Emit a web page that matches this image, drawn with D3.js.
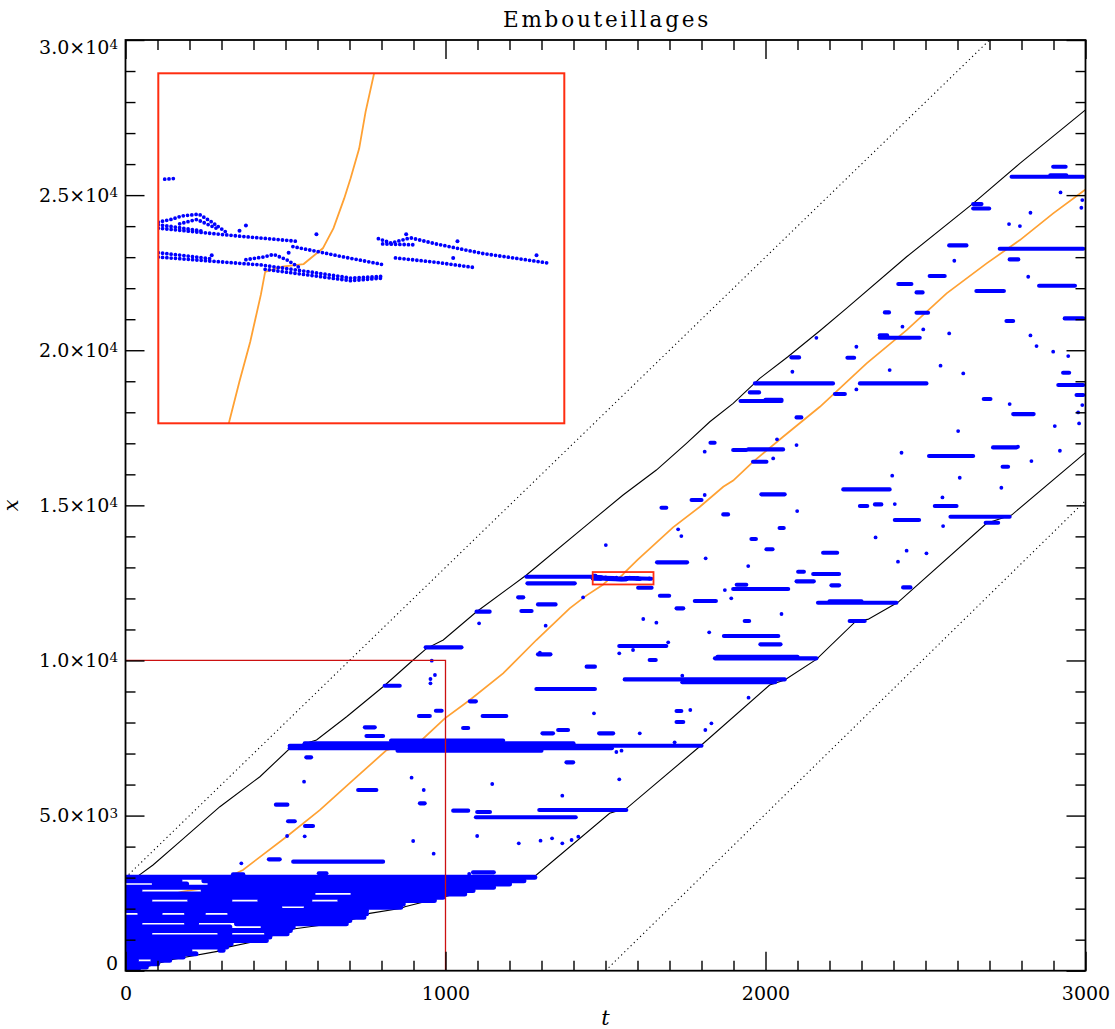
<!DOCTYPE html>
<html>
<head>
<meta charset="utf-8">
<script src="https://cdn.jsdelivr.net/npm/d3@7"></script>
<style>
  body { margin: 0; background: #fff; }
  svg { display: block; }
</style>
</head>
<body>
<svg id="chart" width="1115" height="1029"></svg>
<script>
// ---------- axis ticks and labels ----------
const tMajor = [0, 1000, 2000, 3000];
const tLabels = ["0", "1000", "2000", "3000"];
const xMajor = [0, 5000, 10000, 15000, 20000, 25000, 30000];
const xLabelBase = ["0", "5.0\u00d710", "1.0\u00d710", "1.5\u00d710", "2.0\u00d710", "2.5\u00d710", "3.0\u00d710"];
const xLabelExp = ["", "3", "4", "4", "4", "4", "4"];

// ---------- road limits (t, x) ----------
const entryBound = [[0, 3000], [2700, 30000]];      // dotted, free flow from the entrance
const exitBound = [[1500, 0], [3000, 15150]];        // dotted, free flow from the origin

// first vehicle (upper envelope)
const headEdge = [[0, 2900], [29, 2977], [86, 3406], [170, 4158], [295, 5286], [420, 6253],
  [514, 7168], [597, 7435], [691, 8187], [805, 9153], [899, 10014], [941, 10391], [993, 10659],
  [1097, 11571], [1253, 12754], [1441, 14365], [1555, 15332], [1659, 16138], [1753, 16998],
  [1826, 17694], [1899, 18287], [1982, 19093], [2070, 19790], [2170, 20627], [2253, 21349],
  [2441, 23012], [2649, 24733], [2795, 26022], [3000, 27750]];

// last vehicle (lower envelope)
const tailEdge = [[0, 0], [45, 76], [86, 184], [138, 345], [300, 646], [316, 753], [441, 1022],
  [456, 1119], [508, 1258], [524, 1344], [690, 1580], [701, 1634], [743, 1742], [763, 1849],
  [862, 2010], [873, 2064], [1071, 2580], [1097, 2655], [1149, 2741], [1165, 2816], [1269, 3031],
  [1284, 3085], [1513, 5073], [1566, 5234], [1800, 7274], [2013, 9207], [2060, 9369],
  [2159, 10036], [2284, 11281], [2320, 11325], [2414, 11874], [2691, 14420], [2769, 14687],
  [3000, 16700]];

// tracked vehicle
const probe = [[120, 2380], [175, 2546], [248, 2660], [367, 3246], [503, 4319], [607, 5176],
  [711, 6143], [816, 7110], [860, 7230], [920, 7381], [998, 8135], [1076, 8725], [1180, 9585],
  [1284, 10659], [1388, 11680], [1440, 12090], [1493, 12450], [1498, 12498], [1503, 12543],
  [1508, 12597], [1510, 12623], [1518, 12629], [1528, 12632], [1532, 12640], [1537, 12650],
  [1542, 12673], [1547, 12707], [1550, 12730], [1554, 12764], [1557, 12806], [1561, 12850],
  [1600, 13240], [1711, 14290], [1795, 14955], [1868, 15600], [1899, 15800], [1961, 16400],
  [2055, 17211], [2170, 18178], [2316, 19577], [2441, 20650], [2566, 21833], [2691, 22800],
  [2795, 23551], [2899, 24411], [3000, 25180]];

// initial queue: stopped vehicles [t start, t end, x]
const queueRows = [
  [3, 1279, 3010],
  [3, 170, 2903], [245, 1245, 2903],
  [90, 191, 2796], [264, 1200, 2796],
  [3, 1150, 2689],
  [3, 45, 2582], [243, 1086, 2582],
  [3, 586, 2475], [711, 1060, 2475],
  [3, 992, 2368],
  [3, 76, 2261], [201, 326, 2261], [420, 576, 2261], [670, 965, 2261],
  [3, 868, 2154],
  [3, 482, 2047], [565, 860, 2047],
  [3, 753, 1940],
  [45, 108, 1833], [191, 243, 1833], [326, 753, 1833],
  [3, 745, 1726],
  [3, 701, 1619],
  [3, 45, 1512], [191, 222, 1512], [347, 690, 1512],
  [3, 326, 1405], [430, 524, 1405],
  [3, 515, 1298],
  [3, 76, 1191], [295, 326, 1191], [441, 505, 1191],
  [3, 451, 1084],
  [3, 440, 977],
  [3, 330, 870],
  [3, 316, 763],
  [3, 201, 656], [295, 305, 656],
  [3, 220, 549],
  [3, 180, 442],
  [3, 34, 335], [86, 138, 335],
  [3, 100, 228],
  [3, 65, 121],
  [3, 40, 30]
];

// later stop-and-go jams [t start, t end, x]
const jams = [
  [336, 368, 3107], [604, 628, 3139], [524, 805, 3515], [448, 482, 3590], [1086, 1151, 3171],
  [508, 529, 4815], [561, 586, 4664], [470, 506, 5352], [920, 935, 5395], [727, 784, 5825],
  [1024, 1071, 5159], [1099, 1139, 5116], [1095, 1407, 4944], [1293, 1565, 5180],
  [1378, 1399, 6716], [565, 580, 6877],
  [513, 1800, 7250], [513, 1520, 7170], [560, 1400, 7330], [830, 1180, 7420], [850, 1300, 7090],
  [1303, 1336, 7651], [1352, 1383, 7758], [1480, 1524, 7651], [748, 779, 7844], [753, 805, 7565],
  [1055, 1071, 7823], [1722, 1743, 8016], [1722, 1737, 8371],
  [917, 951, 8210], [1116, 1190, 8210], [970, 988, 8381], [1076, 1095, 8682],
  [810, 857, 9187], [1284, 1467, 9080],
  [1560, 2060, 9390], [1740, 2030, 9300],
  [1441, 1467, 9800], [1638, 1657, 10014],
  [1842, 2159, 10068], [1850, 2100, 10120],
  [938, 1050, 10423], [1289, 1328, 10197], [1543, 1690, 10466], [1984, 2047, 10520], [1870, 2040, 10788],
  [1935, 1949, 11272], [2263, 2310, 11271], [1097, 1138, 11573], [1237, 1269, 11594], [1722, 1743, 11680],
  [1289, 1344, 11808], [1779, 1845, 11916], [2164, 2409, 11862], [2200, 2300, 11905],
  [1227, 1243, 12034], [1670, 1699, 12088], [1899, 2071, 12303], [1910, 1940, 12440], [2430, 2453, 12356],
  [1602, 1644, 12346], [2206, 2230, 12421], [1256, 1404, 12485], [2097, 2151, 12550],
  [1253, 1460, 12700],
  [2149, 2230, 12786], [2102, 2120, 12861], [1661, 1755, 13162], [2180, 2224, 13474], [2003, 2022, 13585],
  [1956, 1970, 13914], [2044, 2057, 14269], [2404, 2480, 14526], [2578, 2763, 14633], [2688, 2727, 14440],
  [1868, 1883, 14709], [1675, 1690, 14924], [2295, 2318, 14977], [2342, 2362, 15031], [2529, 2597, 14977],
  [1769, 1800, 15171], [1987, 2060, 15354], [2243, 2388, 15514],
  [2741, 2758, 16245], [1961, 2003, 16406], [2511, 2649, 16589], [1899, 1940, 16782], [1946, 2055, 16804],
  [2711, 2784, 16868], [1828, 1841, 17019],
  [2097, 2112, 17835], [2774, 2838, 17942], [1922, 2050, 18362], [2000, 2050, 18400], [2682, 2703, 18426],
  [2972, 2993, 18555], [2217, 2248, 18588], [1951, 1980, 18641], [2915, 2993, 18878],
  [1967, 2211, 18931], [2295, 2503, 18931],
  [2930, 2949, 19275], [2081, 2105, 19769], [2256, 2277, 19758],
  [2357, 2482, 20403], [2357, 2380, 20480], [2753, 2774, 20940], [2935, 2993, 21026],
  [2373, 2386, 21220], [2472, 2508, 21209], [2472, 2491, 21864], [2659, 2745, 21907], [2855, 2967, 22079],
  [2415, 2456, 22133], [2513, 2560, 22391], [2763, 2790, 22928], [2732, 2993, 23272], [2574, 2628, 23379],
  [2649, 2699, 24571], [2649, 2675, 24711], [2769, 2993, 25592], [2890, 2940, 25640], [2899, 2938, 25914]
];

// single slowed vehicles [t, x]
const stops = [
  [362, 3461], [1074, 3117], [505, 4342], [560, 4331], [1099, 4342], [1229, 4105], [1297, 4192],
  [1333, 4267], [1365, 4105], [1394, 4213], [1415, 4321], [899, 4181], [963, 3773],
  [558, 6093], [894, 6222], [932, 5825], [1146, 6018], [1365, 5642], [1543, 6169], [1534, 7050],
  [1550, 7093], [1716, 7361], [1812, 7758], [1831, 7973], [1765, 8403], [1607, 7651], [1464, 8296],
  [1947, 8800], [1740, 9510],
  [957, 9993], [967, 9531], [953, 9402], [953, 9262], [1295, 10251], [1543, 10229], [1586, 10337],
  [1696, 10584], [1824, 10906], [1105, 11196], [1313, 11121], [1618, 11336], [1659, 11218],
  [2050, 11497], [1430, 12034], [1893, 12002], [1873, 12270], [1501, 13721], [1813, 13291], [1946, 13044],
  [2099, 14816], [1727, 14226], [1737, 14010], [2441, 13538], [2503, 13452], [2414, 13183],
  [2344, 13967], [2555, 14333], [2404, 15042], [2553, 15256], [2737, 15568], [1810, 15333],
  [2396, 15955], [2607, 15890], [2831, 16427], [2425, 16696], [2920, 16760], [2789, 16889],
  [2097, 16943], [2036, 17127], [2024, 16514], [1810, 16729], [2602, 17394], [2904, 17555],
  [2980, 17641], [2977, 17996], [2990, 18232], [2763, 18265], [2284, 18738],
  [2084, 19307], [2388, 19361], [2547, 19501], [2618, 19254], [2946, 19812], [2899, 19952],
  [2284, 20113], [2847, 20135], [2159, 20400], [2828, 20478], [2574, 20543], [2493, 20672],
  [2428, 20758], [2821, 22369], [2590, 22885], [2761, 24067], [2795, 24002], [2828, 24432],
  [2987, 24593], [2990, 24840], [2922, 25087]
];

// zoomed window [t range, x range] and the vehicles inside it
const zoomT = [1460, 1650];
const zoomX = [12450, 12850];
const zoomTracks = [
  [[1460, 12680], [1466, 12683], [1471, 12687], [1479, 12689], [1485, 12680], [1492, 12668]],
  [[1470, 12678], [1478, 12683], [1488, 12672]],
  [[1460, 12677], [1480, 12670]],
  [[1460, 12673], [1493, 12665], [1525, 12658]],
  [[1523, 12652], [1547, 12640], [1566, 12631]],
  [[1460, 12645], [1485, 12638]],
  [[1460, 12640], [1508, 12631], [1531, 12623], [1550, 12616], [1566, 12618]],
  [[1501, 12637], [1509, 12640], [1514, 12643], [1520, 12637], [1526, 12628]],
  [[1510, 12626], [1550, 12613], [1565, 12616]],
  [[1563, 12661], [1569, 12656], [1578, 12662], [1590, 12655], [1612, 12644], [1643, 12633]],
  [[1565, 12655], [1580, 12654]],
  [[1571, 12639], [1590, 12634], [1608, 12628]],
  [[1463, 12729], [1469, 12730]]
];
const zoomStops = [[1498, 12670], [1501, 12676], [1534, 12666], [1485, 12642], [1521, 12645],
  [1600, 12658], [1598, 12639], [1637, 12642], [1576, 12666]];

// reference corner drawn in red
const refCorner = [1000, 10000];

// ---------- layout ----------
const svg = d3.select("#chart");
const frame = { left: 125.5, right: 1085.5, top: 40, bottom: 970.7 };
const insetBox = { left: 158.3, right: 564.3, top: 73.3, bottom: 423.3 };
const serif = "'DejaVu Serif', 'Liberation Serif', serif";
const BLUE = "#0000ff", ORANGE = "#ffa133", RED = "#ff2d10", DARKRED = "#cc1111";

const x = d3.scaleLinear().domain([0, 3000]).range([frame.left, frame.right]);
const y = d3.scaleLinear().domain([0, 30000]).range([frame.bottom, frame.top]);
const xi = d3.scaleLinear().domain(zoomT).range([insetBox.left, insetBox.right]);
const yi = d3.scaleLinear().domain(zoomX).range([insetBox.bottom, insetBox.top]);

svg.append("rect").attr("width", 1115).attr("height", 1029).attr("fill", "#fff");

const defs = svg.append("defs");
defs.append("clipPath").attr("id", "plotClip").append("rect")
  .attr("x", frame.left).attr("y", frame.top)
  .attr("width", frame.right - frame.left).attr("height", frame.bottom - frame.top);
defs.append("clipPath").attr("id", "insetClip").append("rect")
  .attr("x", insetBox.left).attr("y", insetBox.top)
  .attr("width", insetBox.right - insetBox.left).attr("height", insetBox.bottom - insetBox.top);

const plot = svg.append("g").attr("clip-path", "url(#plotClip)");
const lineMain = d3.line().x(d => x(d[0])).y(d => y(d[1]));
const lineInset = d3.line().x(d => xi(d[0])).y(d => yi(d[1]));

// free-flow bounds
[entryBound, exitBound].forEach(b => {
  plot.append("path").attr("d", lineMain(b)).attr("fill", "none")
    .attr("stroke", "#000").attr("stroke-width", 1.1).attr("stroke-dasharray", "1.2 3.2");
});

// envelopes
[headEdge, tailEdge].forEach(b => {
  plot.append("path").attr("d", lineMain(b)).attr("fill", "none")
    .attr("stroke", "#000").attr("stroke-width", 1.1);
});

// tracked vehicle
plot.append("path").attr("d", lineMain(probe)).attr("fill", "none")
  .attr("stroke", ORANGE).attr("stroke-width", 1.7);

// stopped vehicles
const blue = plot.append("g").attr("stroke", BLUE).attr("stroke-linecap", "round");
blue.selectAll("line.q").data(queueRows).join("line").attr("class", "q")
  .attr("x1", d => x(d[0])).attr("x2", d => x(d[1]))
  .attr("y1", d => y(d[2])).attr("y2", d => y(d[2]))
  .attr("stroke-width", 5);
blue.selectAll("line.j").data(jams).join("line").attr("class", "j")
  .attr("x1", d => x(d[0])).attr("x2", d => x(d[1]))
  .attr("y1", d => y(d[2])).attr("y2", d => y(d[2]))
  .attr("stroke-width", 4.1);
blue.selectAll("path.z").data(zoomTracks).join("path").attr("class", "z")
  .attr("d", lineMain).attr("fill", "none").attr("stroke-width", 4);
plot.append("g").selectAll("circle").data(stops.concat(zoomStops)).join("circle")
  .attr("cx", d => x(d[0])).attr("cy", d => y(d[1])).attr("r", 1.9).attr("fill", BLUE);

// reference corner at t = 1000, x = 10000
plot.append("path")
  .attr("d", lineMain([[0, refCorner[1]], refCorner, [refCorner[0], 0]]))
  .attr("fill", "none").attr("stroke", DARKRED).attr("stroke-width", 1.3);

// zoom window marker
plot.append("rect")
  .attr("x", x(zoomT[0])).attr("y", y(zoomX[1]))
  .attr("width", x(zoomT[1]) - x(zoomT[0])).attr("height", y(zoomX[0]) - y(zoomX[1]))
  .attr("fill", "none").attr("stroke", RED).attr("stroke-width", 1.8);

// ---------- inset ----------
const inset = svg.append("g");
inset.append("rect")
  .attr("x", insetBox.left).attr("y", insetBox.top)
  .attr("width", insetBox.right - insetBox.left).attr("height", insetBox.bottom - insetBox.top)
  .attr("fill", "#fff");
const insetIn = inset.append("g").attr("clip-path", "url(#insetClip)");
insetIn.append("path").attr("d", lineInset(probe)).attr("fill", "none")
  .attr("stroke", ORANGE).attr("stroke-width", 1.8);
insetIn.selectAll("path.zt").data(zoomTracks).join("path").attr("class", "zt")
  .attr("d", lineInset).attr("fill", "none")
  .attr("stroke", BLUE).attr("stroke-width", 3.8)
  .attr("stroke-linecap", "round").attr("stroke-dasharray", "0 4.3");
insetIn.selectAll("circle").data(zoomStops).join("circle")
  .attr("cx", d => xi(d[0])).attr("cy", d => yi(d[1])).attr("r", 2).attr("fill", BLUE);
inset.append("rect")
  .attr("x", insetBox.left).attr("y", insetBox.top)
  .attr("width", insetBox.right - insetBox.left).attr("height", insetBox.bottom - insetBox.top)
  .attr("fill", "none").attr("stroke", RED).attr("stroke-width", 2);

// ---------- axes ----------
const tMinor = d3.range(0, 3001, 100).filter(v => v % 1000 !== 0);
const xMinor = d3.range(0, 30001, 1000).filter(v => v % 5000 !== 0);

function styleAxis(g) {
  g.select(".domain").remove();
  g.selectAll(".tick line").attr("stroke", "#000").attr("stroke-width", 1.4);
  g.attr("font-family", serif).attr("font-size", 19);
  g.selectAll(".tick text").attr("fill", "#000");
}

// bottom
svg.append("g").attr("transform", `translate(0,${frame.bottom})`)
  .call(d3.axisBottom(x).tickValues(tMajor).tickSize(-19).tickSizeOuter(0).tickPadding(15.5)
    .tickFormat((d, i) => tLabels[i]))
  .call(styleAxis);
svg.append("g").attr("transform", `translate(0,${frame.bottom})`)
  .call(d3.axisBottom(x).tickValues(tMinor).tickSize(-10).tickSizeOuter(0).tickFormat(""))
  .call(styleAxis);
// top
svg.append("g").attr("transform", `translate(0,${frame.top})`)
  .call(d3.axisTop(x).tickValues(tMajor).tickSize(-19).tickSizeOuter(0).tickFormat(""))
  .call(styleAxis);
svg.append("g").attr("transform", `translate(0,${frame.top})`)
  .call(d3.axisTop(x).tickValues(tMinor).tickSize(-10).tickSizeOuter(0).tickFormat(""))
  .call(styleAxis);
// left
const leftAxis = svg.append("g").attr("transform", `translate(${frame.left},0)`)
  .call(d3.axisLeft(y).tickValues(xMajor).tickSize(-19).tickSizeOuter(0).tickPadding(7.5)
    .tickFormat(""))
  .call(styleAxis);
leftAxis.selectAll(".tick text").each(function (d, i) {
  const t = d3.select(this);
  t.text(null);
  // keep the end labels inside the axis span
  const shift = i === 0 ? -7 : (i === xMajor.length - 1 ? 7 : 0);
  t.attr("dy", null).attr("y", shift + 6);
  t.append("tspan").text(xLabelBase[i]);
  if (xLabelExp[i]) {
    t.append("tspan").attr("dy", -4.5).attr("font-size", 13.5).text(xLabelExp[i]);
  }
});
svg.append("g").attr("transform", `translate(${frame.left},0)`)
  .call(d3.axisLeft(y).tickValues(xMinor).tickSize(-10).tickSizeOuter(0).tickFormat(""))
  .call(styleAxis);
// right
svg.append("g").attr("transform", `translate(${frame.right},0)`)
  .call(d3.axisRight(y).tickValues(xMajor).tickSize(-19).tickSizeOuter(0).tickFormat(""))
  .call(styleAxis);
svg.append("g").attr("transform", `translate(${frame.right},0)`)
  .call(d3.axisRight(y).tickValues(xMinor).tickSize(-10).tickSizeOuter(0).tickFormat(""))
  .call(styleAxis);

// frame
svg.append("rect")
  .attr("x", frame.left).attr("y", frame.top)
  .attr("width", frame.right - frame.left).attr("height", frame.bottom - frame.top)
  .attr("fill", "none").attr("stroke", "#000").attr("stroke-width", 1.8);

// titles
svg.append("text").attr("x", (frame.left + frame.right) / 2 + 1.5).attr("y", 27.3)
  .attr("text-anchor", "middle").attr("font-family", serif).attr("font-size", 21.5)
  .attr("letter-spacing", 2.8).text("Embouteillages");
svg.append("text").attr("x", (frame.left + frame.right) / 2).attr("y", 1025)
  .attr("text-anchor", "middle").attr("font-family", serif).attr("font-size", 21)
  .attr("font-style", "italic").text("t");
svg.append("text").attr("transform", `translate(18,${(frame.top + frame.bottom) / 2}) rotate(-90)`)
  .attr("text-anchor", "middle").attr("font-family", serif).attr("font-size", 21)
  .attr("font-style", "italic").text("x");
</script>
</body>
</html>
